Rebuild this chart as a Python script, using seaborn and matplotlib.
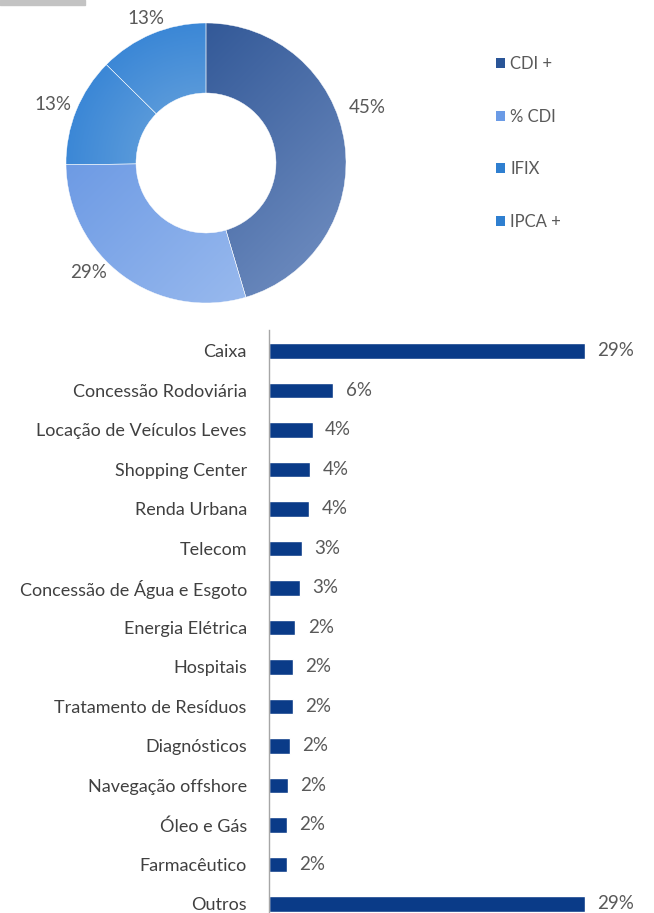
import numpy as np
import pandas as pd
import matplotlib
matplotlib.use('Agg')
import matplotlib.pyplot as plt
from matplotlib.colors import LinearSegmentedColormap
from matplotlib.patches import Patch, Rectangle
import seaborn as sns

# donut data
idx_names = ['CDI +', '% CDI', 'IFIX', 'IPCA +']
idx_share = [45.4, 29.4, 12.6, 12.6]

# sector data
sectors = ['Caixa', 'Concessão Rodoviária', 'Locação de Veículos Leves', 'Shopping Center',
           'Renda Urbana', 'Telecom', 'Concessão de Água e Esgoto', 'Energia Elétrica',
           'Hospitais', 'Tratamento de Resíduos', 'Diagnósticos', 'Navegação offshore',
           'Óleo e Gás', 'Farmacêutico', 'Outros']
sector_share = [29.0, 5.9, 4.0, 3.8, 3.7, 3.0, 2.8, 2.4, 2.2, 2.2, 1.9, 1.75, 1.65, 1.65, 29.0]

sns.set_theme(style='white')
plt.rcParams['font.family'] = ['Lato', 'DejaVu Sans']
txt_color = '#595959'

fig = plt.figure(figsize=(6.54, 9.13), dpi=100)
W, H = 654, 913

# gray tab top-left
fig.patches.append(Rectangle((0, 1 - 5 / H), 85 / W, 5 / H, transform=fig.transFigure,
                             color='#c3c3c3', zorder=0))

# ---- donut ----
ax1 = fig.add_axes([66 / W, 1 - 303 / H, 280 / W, 280 / H])
wedges, _ = ax1.pie(idx_share, startangle=90, counterclock=False,
                    wedgeprops=dict(width=0.5, edgecolor='white', linewidth=0.3),
                    radius=1)

grad_cols = [('#1d4689', '#7592c4'), ('#5a8de0', '#a6c3f1'),
             ('#2479d3', '#74aade'), ('#2479d3', '#74aade')]
legend_cols = ['#2a5597', '#6b9be6', '#2f7fd0', '#2f7fd0']

yy, xx = np.mgrid[1:-1:300j, -1:1:300j]
rr = np.sqrt(xx ** 2 + yy ** 2)
grads = [
    (xx - yy) / 2,              # top-left dark -> bottom-right light
    (xx - yy) / 2,
    1 - rr,                     # outer dark -> inner light
    1 - rr,
]
for w, (c0, c1), g in zip(wedges, grad_cols, grads):
    cmap = LinearSegmentedColormap.from_list('g', [c0, c1])
    g = (g - g.min()) / (g.max() - g.min())
    im = ax1.imshow(g, cmap=cmap, extent=[-1, 1, -1, 1], origin='upper', zorder=1)
    im.set_clip_path(w)
    w.set_facecolor('none')
    w.set_zorder(2)

ax1.set_xlim(-1, 1)
ax1.set_ylim(-1, 1)
ax1.set_aspect('equal')
ax1.axis('off')

label_pos = [(1.15, 0.40), (-0.84, -0.78), (-1.09, 0.42), (-0.43, 1.03)]
for v, (lx, ly) in zip(idx_share, label_pos):
    ax1.text(lx, ly, f'{round(v)}%', ha='center', va='center', fontsize=13.5,
             color=txt_color, clip_on=False)

handles = [Patch(facecolor=c, edgecolor='none') for c in legend_cols]
fig.legend(handles, idx_names, loc='upper left', bbox_to_anchor=(496 / W, 1 - 56 / H),
           frameon=False, fontsize=12, labelcolor=txt_color,
           handlelength=0.55, handleheight=0.55, handletextpad=0.3, labelspacing=2.2,
           borderpad=0, borderaxespad=0)

# ---- bars ----
df = pd.DataFrame({'setor': sectors, 'pct': sector_share})
ax2 = fig.add_axes([269 / W, 0, 327 / W, 583 / H])
sns.barplot(data=df, x='pct', y='setor', orient='h', color='#0a3b88', width=0.39,
            saturation=1, ax=ax2)
ax2.set_xlim(0, 30)
ax2.set_ylim(14.23, -0.53)
ax2.bar_label(ax2.containers[0], labels=[f'{v:.0f}%' for v in sector_share],
              padding=9, fontsize=13.5, color=txt_color, clip_on=False)
ax2.set_xlabel('')
ax2.set_ylabel('')
ax2.set_xticks([])
ax2.tick_params(axis='y', length=0, pad=16, labelsize=13, labelcolor='#404040')
for s in ['top', 'right', 'bottom']:
    ax2.spines[s].set_visible(False)
ax2.spines['left'].set_color('#a6a6a6')
ax2.spines['left'].set_linewidth(1)

fig.savefig('out.png', dpi=100)
